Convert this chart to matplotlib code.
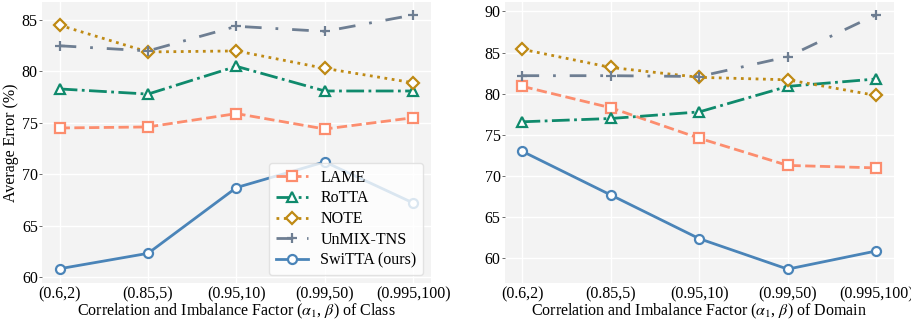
import numpy as np
import matplotlib.pyplot as plt

plt.rcParams['font.family'] = ['Liberation Serif', 'DejaVu Serif']
plt.rcParams['mathtext.fontset'] = 'stix'

factors = ['(0.6,2)', '(0.85,5)', '(0.95,10)', '(0.99,50)', '(0.995,100)']
methods = ['LAME', 'RoTTA', 'NOTE', 'UnMIX-TNS', 'SwiTTA (ours)']

# class imbalance
cls_lame = [74.5, 74.6, 75.9, 74.4, 75.5]
cls_rotta = [78.3, 77.8, 80.5, 78.1, 78.1]
cls_note = [84.5, 81.9, 82.0, 80.3, 78.9]
cls_unmix = [82.5, 82.0, 84.4, 83.9, 85.5]
cls_switta = [60.8, 62.3, 68.7, 71.2, 67.2]

# domain imbalance
dom_lame = [80.9, 78.3, 74.6, 71.3, 71.0]
dom_rotta = [76.6, 77.0, 77.8, 80.9, 81.8]
dom_note = [85.4, 83.2, 82.0, 81.7, 79.8]
dom_unmix = [82.2, 82.2, 82.1, 84.5, 89.6]
dom_switta = [73.0, 67.7, 62.4, 58.7, 60.9]

styles = [
    dict(color='#fc8d6e', ls='--', marker='s'),
    dict(color='#0f8a6c', ls='-.', marker='^'),
    dict(color='#bf8a14', ls=':', marker='D', ms=6),
    dict(color='#6e7e92', ls=(0, (6, 5, 1, 5)), marker='+', ms=7),
    dict(color='#4a84b8', ls='-', marker='o'),
]

fig, axes = plt.subplots(1, 2, figsize=(9.12, 3.21), dpi=100)
x = np.arange(len(factors))

panels = [
    (axes[0], [cls_lame, cls_rotta, cls_note, cls_unmix, cls_switta],
     'Class', (59.4, 86.8), [60, 65, 70, 75, 80, 85]),
    (axes[1], [dom_lame, dom_rotta, dom_note, dom_unmix, dom_switta],
     'Domain', (57.0, 91.2), [60, 65, 70, 75, 80, 85, 90]),
]

for ax, series, name, ylim, yt in panels:
    ax.set_facecolor('#f3f3f3')
    for vals, lab, st in zip(series, methods, styles):
        ms = st.get('ms', 6.5)
        ax.plot(x, vals, color=st['color'], ls=st['ls'], marker=st['marker'],
                ms=ms, mfc='white', mew=1.6, lw=2, label=lab)
    ax.set_xlim(-0.2, 4.2)
    ax.set_ylim(*ylim)
    ax.set_yticks(yt)
    ax.set_xticks(x)
    ax.set_xticklabels(factors)
    ax.grid(True, color='white', lw=1)
    ax.set_axisbelow(True)
    for s in ax.spines.values():
        s.set_visible(False)
    ax.tick_params(axis='x', length=0, labelsize=11.5, pad=2)
    ax.tick_params(axis='y', length=2, width=0.6, color='#555555', labelsize=11.5, pad=1)
    ax.set_xlabel(r'Correlation and Imbalance Factor ($\alpha_1$, $\beta$) of ' + name,
                  fontsize=11.5, labelpad=0)

axes[0].set_ylabel('Average Error (%)', fontsize=11.5, labelpad=2)
axes[0].legend(loc='lower right', fontsize=11.5, framealpha=0.8, facecolor='white',
               edgecolor='#dddddd', handlelength=2.0, borderpad=0.4, labelspacing=0.3)

fig.subplots_adjust(left=0.046, right=0.98, top=0.995, bottom=0.118, wspace=0.19)
fig.savefig('out.png', dpi=100)
